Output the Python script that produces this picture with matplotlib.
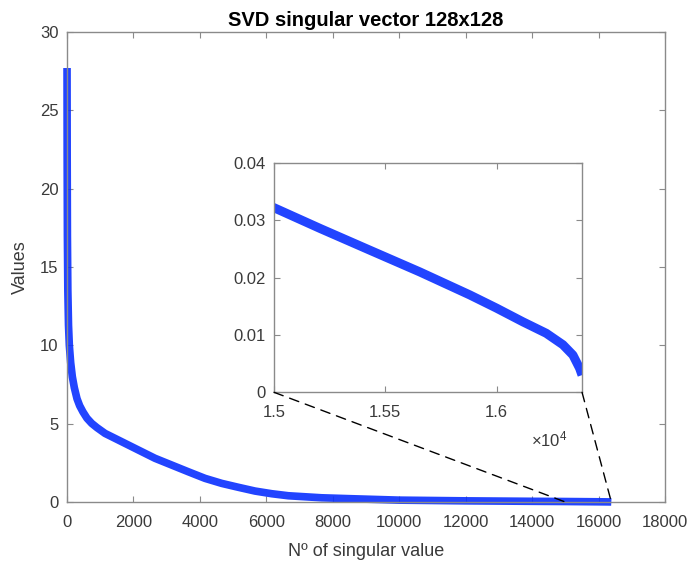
import matplotlib
matplotlib.use("Agg")
import matplotlib.pyplot as plt
from matplotlib.patches import ConnectionPatch
from matplotlib.ticker import FuncFormatter

plt.rcParams['font.family'] = ['Liberation Sans', 'DejaVu Sans']
plt.rcParams['mathtext.default'] = 'regular'

# singular values (index, value)
sv_index = [1, 5, 12, 25, 45, 70, 110, 160, 220, 300, 380, 480, 600, 743, 900, 1144, 1646, 2147,
            2649, 3151, 3652, 4154, 4656, 5157, 5659, 6161, 6662, 7665, 8568,
            10000, 12000, 14000, 15000, 15206, 15430, 15655, 15879, 15999,
            16118, 16223, 16298, 16343, 16373, 16384]
sv_value = [27.7, 22.0, 17.0, 13.5, 11.3, 10.0, 8.9, 8.0, 7.3, 6.6, 6.15, 5.75, 5.35, 5.02, 4.75, 4.38, 3.85, 3.32,
            2.79, 2.36, 1.93, 1.51, 1.19, 0.94, 0.70, 0.53, 0.40, 0.27, 0.21,
            0.12, 0.075, 0.045, 0.0322, 0.0286, 0.0248, 0.0210, 0.0170, 0.0147,
            0.0123, 0.0103, 0.0083, 0.0065, 0.0042, 0.0030]

title = "SVD singular vector 128x128"
xlabel = "Nº of singular value"
ylabel = "Values"
main_xticks = [0, 2000, 4000, 6000, 8000, 10000, 12000, 14000, 16000, 18000]
main_yticks = [0, 5, 10, 15, 20, 25, 30]
inset_xticks = [15000, 15500, 16000]
inset_yticks = [0, 0.01, 0.02, 0.03, 0.04]

blue = '#0a30ff'
spine_c = '#8a8a8a'
text_c = '#3a3a3a'

fig = plt.figure(figsize=(6.88, 5.67), dpi=100)
ax = fig.add_axes([0.0974, 0.1146, 0.8692, 0.829])
ax.plot(sv_index, sv_value, color=blue, lw=5.5, solid_capstyle='butt',
        solid_joinstyle='round', alpha=0.9, clip_on=False)
ax.set_xlim(0, 18000)
ax.set_ylim(0, 30)
ax.set_xticks(main_xticks)
ax.set_yticks(main_yticks)
ax.set_title(title, fontsize=14.5, fontweight='bold', color='black', pad=4)
ax.set_xlabel(xlabel, fontsize=13, color=text_c, labelpad=10)
ax.set_ylabel(ylabel, fontsize=13, color=text_c, labelpad=8)

ins = fig.add_axes([0.3983, 0.3081, 0.4477, 0.4044])
ins.plot(sv_index, sv_value, color=blue, lw=6.5, solid_capstyle='butt',
         solid_joinstyle='round', alpha=0.9)
ins.set_xlim(15000, 16384)
ins.set_ylim(0, 0.04)
ins.set_xticks(inset_xticks)
ins.set_yticks(inset_yticks)
ins.xaxis.set_major_formatter(FuncFormatter(lambda v, p: f"{v/1e4:g}"))
ins.yaxis.set_major_formatter(FuncFormatter(lambda v, p: f"{v:g}"))
ins.text(0.835, -0.205, r"$\times10^{4}$", transform=ins.transAxes, fontsize=12,
         color=text_c, ha='left', va='center')

for a in (ax, ins):
    for s in a.spines.values():
        s.set_color(spine_c)
        s.set_linewidth(1.0)
    a.tick_params(direction='in', length=4, width=0.8, color=spine_c,
                  labelcolor=text_c, labelsize=12, top=True, right=True)
    a.tick_params(axis='x', pad=9)
    a.tick_params(axis='y', pad=6)

for xa in (15000, 16384):
    con = ConnectionPatch(xyA=(xa, 0), coordsA=ins.transData,
                          xyB=(xa, 0), coordsB=ax.transData,
                          color='black', lw=1.0, linestyle=(0, (7, 5)), zorder=5)
    fig.add_artist(con)

fig.savefig("out.png", dpi=100)
